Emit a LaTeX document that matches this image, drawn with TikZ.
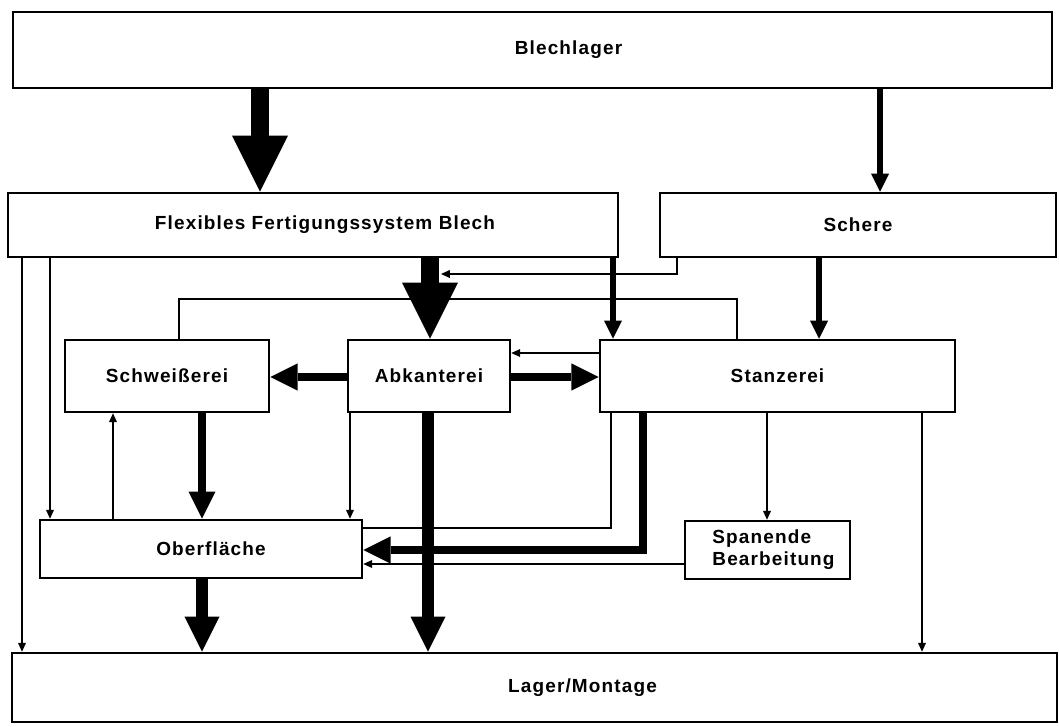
\documentclass[tikz,border=0pt]{standalone}
\usepackage{fontspec}
\setmainfont{Liberation Sans}[LetterSpace=6]
\usetikzlibrary{arrows.meta}

\begin{document}
\begin{tikzpicture}[
    x=0.025cm, y=-0.025cm,
    box/.style={rectangle, draw=black, line width=1.8pt, fill=white,
                font=\bfseries\fontsize{13.5}{15.5}\selectfont, align=center},
    hugearrow/.style={-{Triangle[length=1.4cm, width=1.4cm, line width=0pt]}, line width=0.47cm},
    bigarrow/.style={-{Triangle[length=0.875cm, width=0.875cm, line width=0pt]}, line width=0.31cm},
    fatarrow/.style={-{Triangle[length=0.68cm, width=0.68cm, line width=0pt]}, line width=0.22cm},
    midarrow/.style={-{Triangle[length=0.45cm, width=0.45cm, line width=0pt]}, line width=0.14cm},
    slimarrow/.style={-{Triangle[length=0.22cm, width=0.2cm, line width=0pt]}, line width=1pt},
    link/.style={line width=1pt}
]
    \useasboundingbox (0,0) rectangle (1059,726);

    \node[box, minimum width=25.975cm, minimum height=1.9cm]  (blech)    at (532.5,50)  {\hspace*{1.8cm}Blechlager};
    \node[box, minimum width=15.25cm, minimum height=1.6cm]   (ffs)      at (313,225)   {\hspace*{0.6cm}Flexibles Fertigungssystem Blech};
    \node[box, minimum width=9.9cm, minimum height=1.6cm]     (schere)   at (858,225)   {Schere};
    \node[box, minimum width=5.1cm, minimum height=1.8cm]     (schweiss) at (167,376)   {Schweißerei};
    \node[box, minimum width=4.05cm, minimum height=1.8cm]    (abk)      at (429,376)   {Abkanterei};
    \node[box, minimum width=8.875cm, minimum height=1.8cm]   (stanz)    at (777.5,376) {Stanzerei};
    \node[box, minimum width=8.05cm, minimum height=1.45cm]   (ober)     at (201,549)   {\hspace*{0.5cm}Oberfläche};
    \node[box, minimum width=4.125cm, minimum height=1.45cm, align=left] (span) at (767.5,550) {\hspace*{0.3cm}Spanende\\\hspace*{0.3cm}Bearbeitung};
    \node[box, minimum width=26.125cm, minimum height=1.725cm] (lager)   at (534.5,687.5) {\hspace*{2.4cm}Lager/Montage};

    \coordinate (join) at (441,274);

    % from the sheet store
    \draw[hugearrow] (260,0 |- blech.south) -- (260,0 |- ffs.north);
    \draw[midarrow]  (880,0 |- blech.south) -- (880,0 |- schere.north);

    % upper level
    \draw[link]      (179,0 |- schweiss.north) -- (179,299) -| (737,0 |- stanz.north);
    \draw[slimarrow] (677,0 |- schere.south) |- (join);
    \draw[hugearrow] (430,0 |- ffs.south) -- (430,0 |- abk.north);
    \draw[midarrow]  (613,0 |- ffs.south) -- (613,0 |- stanz.north);
    \draw[midarrow]  (819,0 |- schere.south) -- (819,0 |- stanz.north);
    \draw[slimarrow] (50,0 |- ffs.south) -- (50,0 |- ober.north);
    \draw[slimarrow] (22,0 |- ffs.south) -- (22,0 |- lager.north);

    % middle level
    \draw[slimarrow] (stanz.west |- 0,353) -- (abk.east |- 0,353);
    \draw[fatarrow]  (abk.east |- 0,377) -- (stanz.west |- 0,377);
    \draw[fatarrow]  (abk.west |- 0,377) -- (schweiss.east |- 0,377);

    % towards the surface shop
    \draw[slimarrow] (113,0 |- ober.north) -- (113,0 |- schweiss.south);
    \draw[fatarrow]  (202,0 |- schweiss.south) -- (202,0 |- ober.north);
    \draw[slimarrow] (350,0 |- abk.south) -- (350,0 |- ober.north);
    \draw[link]      (611,0 |- stanz.south) |- (ober.east |- 0,528);
    \draw[fatarrow]  (643,0 |- stanz.south) |- (ober.east |- 0,550);
    \draw[slimarrow] (span.west |- 0,564) -- (ober.east |- 0,564);
    \draw[slimarrow] (767,0 |- stanz.south) -- (767,0 |- span.north);

    % into the store
    \draw[bigarrow]  (202,0 |- ober.south) -- (202,0 |- lager.north);
    \draw[bigarrow]  (428,0 |- abk.south) -- (428,0 |- lager.north);
    \draw[slimarrow] (922,0 |- stanz.south) -- (922,0 |- lager.north);
\end{tikzpicture}
\end{document}
